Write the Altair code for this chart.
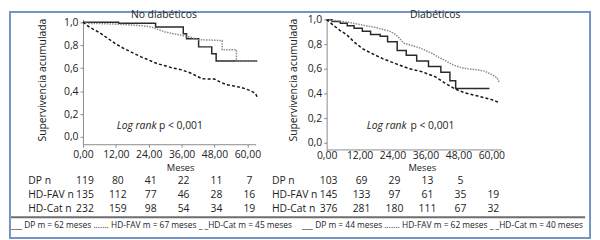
import altair as alt
import pandas as pd

FONT = "Open Sans"
TXT = "#222222"
AX = "#8a8a8a"
BORDER = "#7395c6"
FS = 10.5

months = [0, 12, 24, 36, 48, 60]
surv_ticks = [0.0, 0.2, 0.4, 0.6, 0.8, 1.0]
series = ["DP", "HD-FAV", "HD-Cat"]
risk_labels = ["DP n", "HD-FAV n", "HD-Cat n"]

# ---- No diabéticos ----
nd_dp_t = [0, 13, 13, 26.5, 26.5, 36.6, 36.6, 37.8, 37.8, 42.2, 42.2, 47.0, 47.0, 48.6, 48.6, 63.6]
nd_dp_s = [1.0, 1.0, 0.99, 0.99, 0.958, 0.958, 0.90, 0.90, 0.855, 0.855, 0.785, 0.785, 0.725, 0.725, 0.662, 0.662]
nd_fav_t = [0, 2, 6, 12, 18, 22, 25, 27, 30, 33, 36, 39, 42, 46, 50.8, 50.8, 56.0, 56.0, 63.6]
nd_fav_s = [1.0, 0.99, 0.988, 0.983, 0.975, 0.968, 0.958, 0.94, 0.915, 0.9, 0.885, 0.87, 0.848, 0.845, 0.84, 0.76, 0.76, 0.662, 0.662]
nd_cat_t = [0, 2.5, 6, 9, 12, 15, 18, 21, 24, 27, 30, 33, 36, 39, 42, 43.5, 48, 50, 52.5, 55, 58, 61, 63, 63.6]
nd_cat_s = [1.0, 0.955, 0.91, 0.86, 0.81, 0.77, 0.735, 0.70, 0.67, 0.64, 0.62, 0.60, 0.585, 0.56, 0.525, 0.507, 0.505, 0.48, 0.455, 0.445, 0.43, 0.405, 0.38, 0.345]
nd_risk = [[119, 80, 41, 22, 11, 7],
           [135, 112, 77, 46, 28, 16],
           [232, 159, 98, 54, 34, 19]]
nd_legend = "___ DP m = 62 meses ....... HD-FAV m = 67 meses _ _HD-Cat m = 45 meses"

# ---- Diabéticos ----
d_dp_t = [0, 2, 2, 5, 5, 7.5, 7.5, 10, 10, 13, 13, 16, 16, 19.5, 19.5, 22.2, 22.2, 25.7, 25.7, 29, 29,
          32.8, 32.8, 37.1, 37.1, 41.6, 41.6, 44.9, 44.9, 47, 47, 59.3]
d_dp_s = [1.0, 1.0, 0.985, 0.985, 0.97, 0.97, 0.95, 0.95, 0.93, 0.93, 0.905, 0.905, 0.88, 0.88, 0.865, 0.865,
          0.82, 0.82, 0.75, 0.75, 0.71, 0.71, 0.664, 0.664, 0.62, 0.62, 0.572, 0.572, 0.503, 0.503, 0.441, 0.441]
d_fav_t = [0, 4, 8, 13.5, 19, 23, 25, 26.5, 28, 31, 34, 36, 38.5, 40.7, 43, 45, 47, 49, 51.5, 54, 57.5, 60, 62, 62.9]
d_fav_s = [1.0, 0.99, 0.978, 0.955, 0.93, 0.905, 0.88, 0.85, 0.81, 0.79, 0.77, 0.75, 0.725, 0.695, 0.67, 0.645,
           0.625, 0.61, 0.6, 0.595, 0.582, 0.555, 0.53, 0.49]
d_cat_t = [0, 2.4, 4.8, 7.2, 10.2, 13.2, 16.8, 20.4, 25.1, 29.9, 34.7, 39.5, 43.1, 46.7, 50.3, 55.1, 59.9, 62.9]
d_cat_s = [1.0, 0.955, 0.913, 0.88, 0.815, 0.762, 0.722, 0.683, 0.643, 0.603, 0.577, 0.537, 0.485, 0.437,
           0.405, 0.379, 0.352, 0.326]
d_risk = [[103, 69, 29, 13, 5],
          [145, 133, 97, 61, 35, 19],
          [376, 281, 180, 111, 67, 32]]
d_legend = "___ DP m = 44 meses ....... HD-FAV m = 62 meses _ _HD-Cat m = 40 meses"

risk_rows_py = [163.8, 177.8, 191.7]


def curves_df(tlists, slists):
    rows = []
    for name, ts, ss in zip(series, tlists, slists):
        for i, (t, s) in enumerate(zip(ts, ss)):
            rows.append({"serie": name, "t": t, "s": s, "idx": i})
    return pd.DataFrame(rows)


def risk_df(risk):
    rows = []
    for r, vals in enumerate(risk):
        for t, v in zip(months, vals):
            rows.append({"t": t, "py": risk_rows_py[r], "label": str(v)})
    return pd.DataFrame(rows)


def text_layer(rows, **mk):
    d = pd.DataFrame(rows, columns=["px", "py", "label"])
    base = dict(font=FONT, color=TXT, fontSize=FS, baseline="middle")
    base.update(mk)
    return alt.Chart(d).mark_text(**base).encode(
        x=alt.X("px:Q", scale=None, axis=None),
        y=alt.Y("py:Q", scale=None, axis=None),
        text="label:N",
    )


def panel(df, risk, width, height, xmax, ymin, ymax, xtick, xpad, title, title_px, ytitle_px,
          meses_px, lr_px, legend, legend_px, extra=None):
    x = alt.X("t:Q", scale=alt.Scale(domain=[0, xmax], nice=False, zero=False),
              axis=alt.Axis(values=months, title=None, grid=False,
                            labelExpr="replace(format(datum.value, '.2f'), '.', ',')",
                            tickSize=xtick, labelPadding=xpad, domainColor=AX, tickColor=AX,
                            labelColor=TXT, labelFont=FONT, labelFontSize=FS,
                            labelFlush=False, labelOverlap=False, labelBound=False))
    y = alt.Y("s:Q", scale=alt.Scale(domain=[ymin, ymax], nice=False, zero=False),
              axis=alt.Axis(values=surv_ticks, title=None, grid=False,
                            labelExpr="replace(format(datum.value, '.1f'), '.', ',')",
                            tickSize=3, labelPadding=2, domainColor=AX, tickColor=AX,
                            labelColor=TXT, labelFont=FONT, labelFontSize=FS,
                            labelFlush=False, labelOverlap=False))
    lines = alt.Chart(df).mark_line(strokeWidth=1.5, clip=False).encode(
        x=x, y=y,
        color=alt.Color("serie:N", scale=alt.Scale(domain=series, range=["#2a2a2a", "#8a8a8a", "#151515"]),
                        legend=None),
        strokeDash=alt.StrokeDash("serie:N", scale=alt.Scale(domain=series, range=[[1, 0], [1.5, 1.2], [3, 2.2]]),
                                  legend=None),
        order="idx:Q",
    )
    nums = alt.Chart(risk_df(risk)).mark_text(font=FONT, color=TXT, fontSize=FS, baseline="middle", dx=2).encode(
        x=x,
        y=alt.Y("py:Q", scale=None, axis=None),
        text="label:N",
    )
    layers = [lines, nums,
              text_layer([[title_px[0], title_px[1], title]]),
              text_layer([[ytitle_px[0], ytitle_px[1], "Supervivencia acumulada"]], angle=270),
              text_layer([[meses_px[0], meses_px[1], "Meses"]], fontSize=9.5),
              text_layer([[lr_px[0], lr_px[2], "Log rank"]], fontStyle="italic", align="right"),
              text_layer([[lr_px[1], lr_px[2], "p < 0,001"]], align="left"),
              text_layer([[-55.5, py, lab] for py, lab in zip(risk_rows_py, risk_labels)], align="left"),
              text_layer([[legend_px[0], legend_px[1], legend]], align="left", fontSize=8.5),
              ]
    if extra:
        layers = extra + layers
    return alt.layer(*layers).properties(width=width, height=height)


one = pd.DataFrame({"a": [0]})
border = alt.Chart(one).mark_rect(fillOpacity=0, stroke=BORDER, strokeWidth=2).encode(
    x=alt.value(-74), x2=alt.value(514), y=alt.value(-7.5), y2=alt.value(221.5))
separator = alt.Chart(one).mark_rule(strokeWidth=2, color="#6e6e6e").encode(
    x=alt.value(-73), x2=alt.value(509), y=alt.value(200.5))

left = panel(curves_df([nd_dp_t, nd_fav_t, nd_cat_t], [nd_dp_s, nd_fav_s, nd_cat_s]), nd_risk,
             width=175, height=126.5, xmax=63, ymin=-0.0627, ymax=1.024, xtick=3, xpad=2,
             title="No diabéticos", title_px=(82, -4.5), ytitle_px=(-40, 61.5),
             meses_px=(99, 150.3), lr_px=(74.5, 77, 108.5), legend=nd_legend, legend_px=(-73, 208.5),
             extra=[border, separator])

right = panel(curves_df([d_dp_t, d_fav_t, d_cat_t], [d_dp_s, d_fav_s, d_cat_s]), d_risk,
              width=177, height=131.8, xmax=63.6, ymin=-0.0545, ymax=1.0016, xtick=1, xpad=0,
              title="Diabéticos", title_px=(110, -4.0), ytitle_px=(-33, 61.5),
              meses_px=(97, 150.9), lr_px=(81, 85, 108.5), legend=d_legend, legend_px=(-25, 208.5))

chart = alt.hconcat(left, right, spacing=72, bounds="flush").properties(padding=0).configure_view(
    stroke="transparent")

chart.save("out.html", embed_options={"renderer": "svg", "actions": False})
